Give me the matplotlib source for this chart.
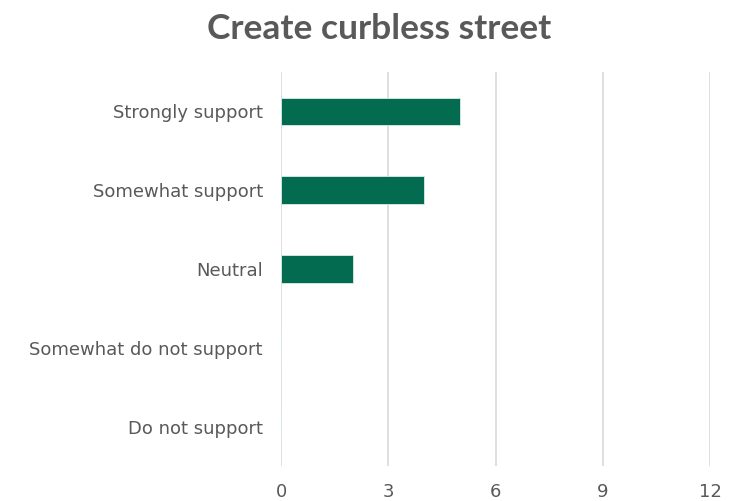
import matplotlib.pyplot as plt

plt.rcParams['font.family'] = ['DejaVu Sans']

categories = ['Strongly support', 'Somewhat support', 'Neutral',
              'Somewhat do not support', 'Do not support']
values = [5, 4, 2, 0, 0]
xticks = [0, 3, 6, 9, 12]

fig = plt.figure(figsize=(7.53, 5.01), dpi=100)
ax = fig.add_axes([0.3732, 0.0699, 0.5697, 0.7864])

ypos = list(range(len(categories)))
ax.barh(ypos, values, height=0.35, color='#036c50', edgecolor='#d9ece6', linewidth=0.6, zorder=3)
ax.set_ylim(len(categories) - 0.5, -0.5)
ax.set_yticks(ypos)
ax.set_yticklabels(categories)
ax.set_xlim(0, 12)
ax.set_xticks(xticks)
ax.grid(axis='x', color='#d9d9d9', linewidth=1.2, zorder=0)
for s in ax.spines.values():
    s.set_visible(False)
ax.tick_params(axis='both', length=0, labelsize=13, labelcolor='#595959')
ax.tick_params(axis='y', pad=13)
ax.tick_params(axis='x', pad=12)

fig.suptitle('Create curbless street', x=0.503, y=0.975, fontsize=25.5,
             fontweight='bold', color='#595959', family=['Lato', 'DejaVu Sans'])

fig.savefig('out.png', dpi=100)
